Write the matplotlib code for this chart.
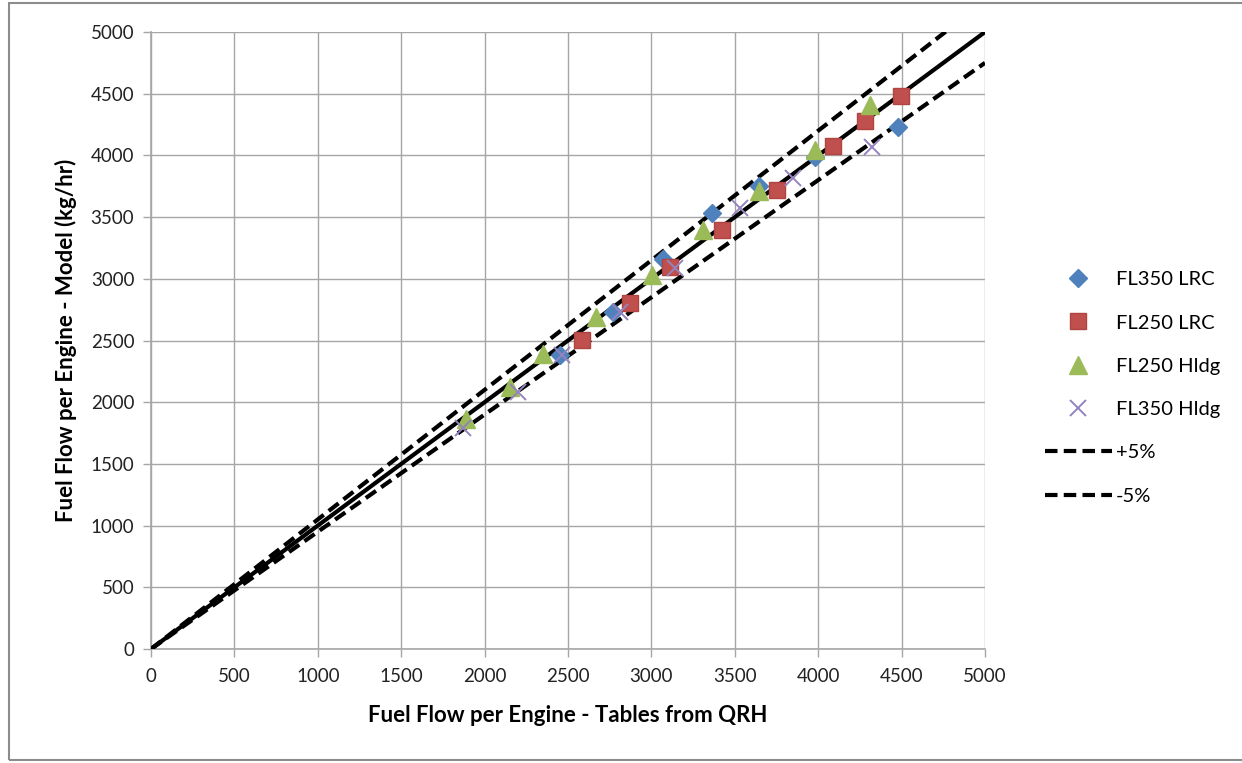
import matplotlib
matplotlib.use("Agg")
import matplotlib.pyplot as plt
from matplotlib.patches import Rectangle
import numpy as np

plt.rcParams['font.family'] = ['Lato', 'DejaVu Sans']

fl350_lrc_x = [2450, 2770, 3070, 3365, 3645, 3980, 4480]
fl350_lrc_y = [2380, 2730, 3160, 3530, 3750, 3990, 4230]

fl250_lrc_x = [2585, 2870, 3110, 3425, 3755, 4090, 4280, 4495]
fl250_lrc_y = [2505, 2805, 3095, 3395, 3720, 4075, 4280, 4480]

fl250_hldg_x = [1890, 2150, 2350, 2670, 3005, 3310, 3645, 3980, 4310]
fl250_hldg_y = [1860, 2120, 2390, 2690, 3030, 3395, 3710, 4045, 4410]

fl350_hldg_x = [1870, 2200, 2465, 2810, 3140, 3530, 3850, 4325]
fl350_hldg_y = [1790, 2080, 2380, 2730, 3085, 3570, 3815, 4070]

ref_x = [0, 5000]
plus5_factor = 1.05
minus5_factor = 0.95

fig = plt.figure(figsize=(12.42, 7.63), dpi=100)
ax = fig.add_axes([151/1242, 114/763, 834/1242, 617/763])

grid_c = '#a6a6a6'
ax.set_xlim(0, 5000)
ax.set_ylim(0, 5000)
ax.set_xticks(np.arange(0, 5001, 500))
ax.set_yticks(np.arange(0, 5001, 500))
ax.grid(True, color=grid_c, linewidth=1.0)
ax.set_axisbelow(True)
for s in ['top', 'right']:
    ax.spines[s].set_visible(False)
for s in ['left', 'bottom']:
    ax.spines[s].set_color(grid_c)
    ax.spines[s].set_linewidth(1.2)
ax.tick_params(axis='both', colors=grid_c, labelcolor='#222222', labelsize=13.5, length=6, width=1)
ax.tick_params(axis='x', pad=8)
ax.tick_params(axis='y', pad=6)

ax.plot(ref_x, ref_x, color='black', linewidth=3.0, solid_capstyle='butt', zorder=3)
ax.plot(ref_x, [v * plus5_factor for v in ref_x], color='black', linewidth=3.0,
        dashes=(3, 1.5), label='+5%', zorder=3)
ax.plot(ref_x, [v * minus5_factor for v in ref_x], color='black', linewidth=3.0,
        dashes=(3, 1.5), label='-5%', zorder=3)

ax.plot(fl350_lrc_x, fl350_lrc_y, linestyle='none', marker='D', markersize=9,
        color='#4F81BD', label='FL350 LRC', zorder=4)
ax.plot(fl250_lrc_x, fl250_lrc_y, linestyle='none', marker='s', markersize=12,
        color='#C0504D', markeredgecolor='#b04440', label='FL250 LRC', zorder=4)
ax.plot(fl250_hldg_x, fl250_hldg_y, linestyle='none', marker='^', markersize=13,
        color='#9BBB59', label='FL250 Hldg', zorder=4)
ax.plot(fl350_hldg_x, fl350_hldg_y, linestyle='none', marker='x', markersize=12,
        markeredgewidth=1.4, color='#9583bd', label='FL350 Hldg', zorder=5)

ax.set_xlabel('Fuel Flow per Engine - Tables from QRH', fontsize=16, fontweight='bold', labelpad=14)
ax.set_ylabel('Fuel Flow per Engine - Model (kg/hr)', fontsize=16, fontweight='bold', labelpad=10)

handles, labels = ax.get_legend_handles_labels()
order = ['FL350 LRC', 'FL250 LRC', 'FL250 Hldg', 'FL350 Hldg', '+5%', '-5%']
hmap = dict(zip(labels, handles))
leg = fig.legend([hmap[k] for k in order], order, loc='upper left',
                 bbox_to_anchor=(1027/1242, 1 - 253/763), frameon=False,
                 fontsize=14.5, labelspacing=1.3, handlelength=3.3, handletextpad=0.2)

fig.patches.append(Rectangle((9/1242, 3/763), 1240/1242, 757/763, transform=fig.transFigure,
                             fill=False, edgecolor='#8c8c8c', linewidth=1.5))

fig.savefig('out.png', dpi=100)
